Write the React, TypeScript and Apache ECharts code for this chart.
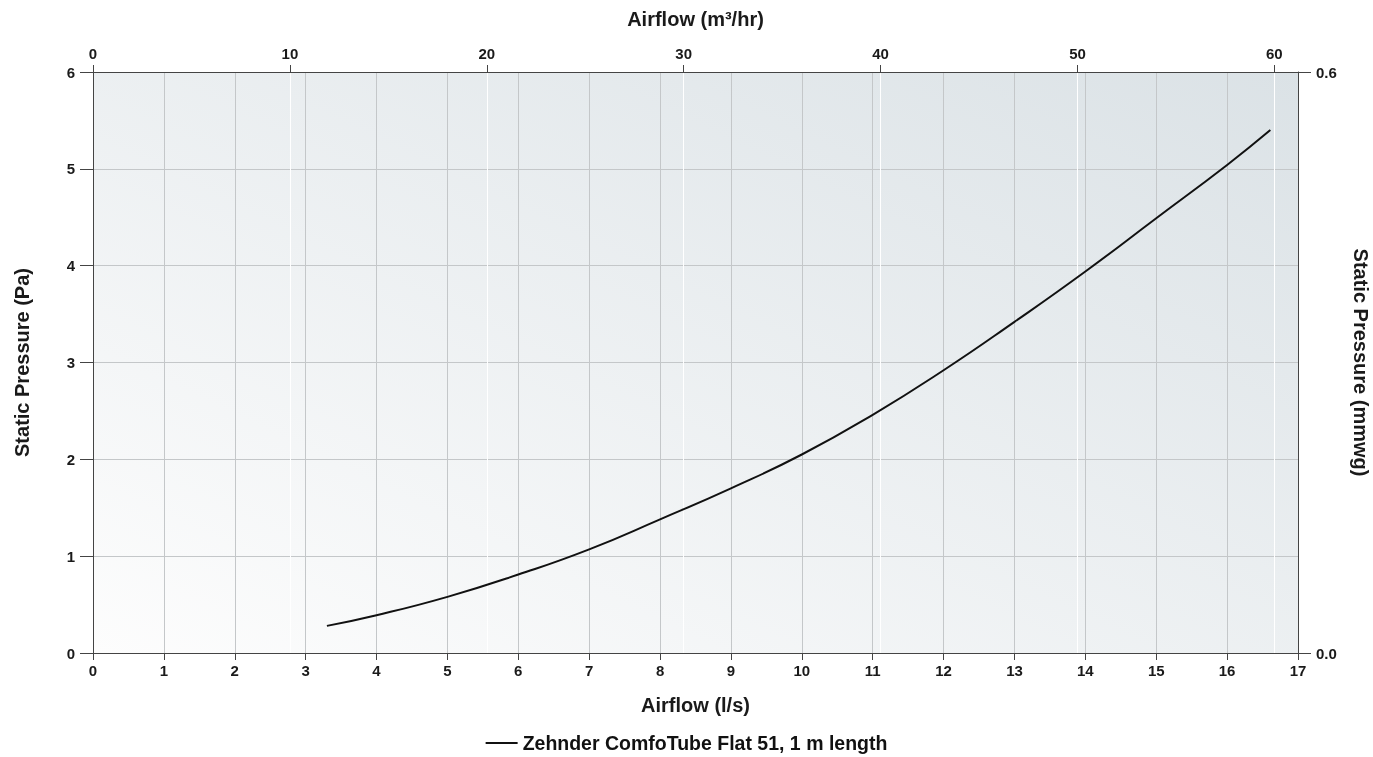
import React, { useEffect, useRef } from "react";
import * as echarts from "echarts";

const seriesName = "Zehnder ComfoTube Flat 51, 1 m length";
const airflowLs = [3.3, 4, 5, 6, 7, 8, 9, 10, 11, 12, 13, 14, 15, 16, 16.61];
const pressurePa = [0.28, 0.39, 0.58, 0.81, 1.07, 1.38, 1.70, 2.05, 2.46, 2.92, 3.42, 3.94, 4.49, 5.04, 5.40];
const topTicks = [0, 10, 20, 30, 40, 50, 60];

const FONT = "Arial, 'Liberation Sans', Helvetica, sans-serif";

export default function App() {
  const ref = useRef<HTMLDivElement>(null);
  useEffect(() => {
    if (!ref.current) return;
    const chart = echarts.init(ref.current, undefined, { renderer: "svg" });
    const labelStyle = { color: "#1a1a1a", fontWeight: "bold" as const, fontSize: 15, fontFamily: FONT };
    const nameStyle = { color: "#1a1a1a", fontWeight: "bold" as const, fontSize: 20, fontFamily: FONT };
    const axisLine = { show: true, onZero: false, lineStyle: { color: "#444", width: 1 } };
    chart.setOption({
      animation: false,
      grid: {
        left: 93,
        right: 75,
        top: 72,
        bottom: 104,
        show: true,
        borderWidth: 0,
        outerBoundsMode: "none",
        containLabel: false,
        backgroundColor: new echarts.graphic.LinearGradient(0, 1, 1, 0, [
          { offset: 0, color: "#fdfdfd" },
          { offset: 1, color: "#dbe2e6" },
        ]),
      },
      legend: {
        top: 728,
        left: "center",
        icon: "rect",
        itemWidth: 32,
        itemHeight: 2,
        itemGap: 8,
        textStyle: { ...nameStyle, fontSize: 19.5, color: "#111" },
        data: [seriesName],
      },
      xAxis: [
        {
          type: "value",
          position: "bottom",
          min: 0,
          max: 17,
          interval: 1,
          name: "Airflow (l/s)",
          nameLocation: "middle",
          nameGap: 42,
          nameTextStyle: nameStyle,
          axisLine,
          axisTick: { show: true, length: 7, lineStyle: { color: "#444" } },
          axisLabel: { ...labelStyle, margin: 10 },
          splitLine: { show: true, lineStyle: { color: "#c4c7c9", width: 1 } },
        },
        {
          type: "value",
          position: "top",
          min: 0,
          max: 61.2,
          interval: 10,
          name: "Airflow (m³/hr)",
          nameLocation: "middle",
          nameGap: 43,
          nameTextStyle: nameStyle,
          axisLine,
          axisTick: { show: true, length: 7, lineStyle: { color: "#444" }, customValues: topTicks },
          axisLabel: { ...labelStyle, margin: 11, customValues: topTicks },
          splitLine: { show: true, lineStyle: { color: "#ffffff", width: 1 } },
        },
      ],
      yAxis: [
        {
          type: "value",
          position: "left",
          min: 0,
          max: 6,
          interval: 1,
          name: "Static Pressure (Pa)",
          nameLocation: "middle",
          nameGap: 61,
          nameRotate: 90,
          nameTextStyle: nameStyle,
          axisLine,
          axisTick: { show: true, length: 13, lineStyle: { color: "#444" } },
          axisLabel: { ...labelStyle, margin: 18 },
          splitLine: { show: true, lineStyle: { color: "#c4c7c9", width: 1 } },
        },
        {
          type: "value",
          position: "right",
          min: 0,
          max: 0.6,
          interval: 0.6,
          name: "Static Pressure (mmwg)",
          nameLocation: "middle",
          nameGap: 53,
          nameRotate: -90,
          nameTextStyle: nameStyle,
          axisLine,
          axisTick: { show: true, length: 13, lineStyle: { color: "#444" } },
          axisLabel: { ...labelStyle, margin: 18, formatter: (v: number) => v.toFixed(1) },
          splitLine: { show: false },
        },
      ],
      series: [
        {
          name: seriesName,
          type: "line",
          xAxisIndex: 0,
          yAxisIndex: 0,
          smooth: true,
          symbol: "none",
          lineStyle: { color: "#111", width: 2 },
          itemStyle: { color: "#111" },
          data: airflowLs.map((x, i) => [x, pressurePa[i]]),
        },
      ],
    });
    return () => chart.dispose();
  }, []);
  return (
    <div
      ref={ref}
      style={{ position: "fixed", left: 0, top: 0, width: 1373, height: 757 }}
    />
  );
}
